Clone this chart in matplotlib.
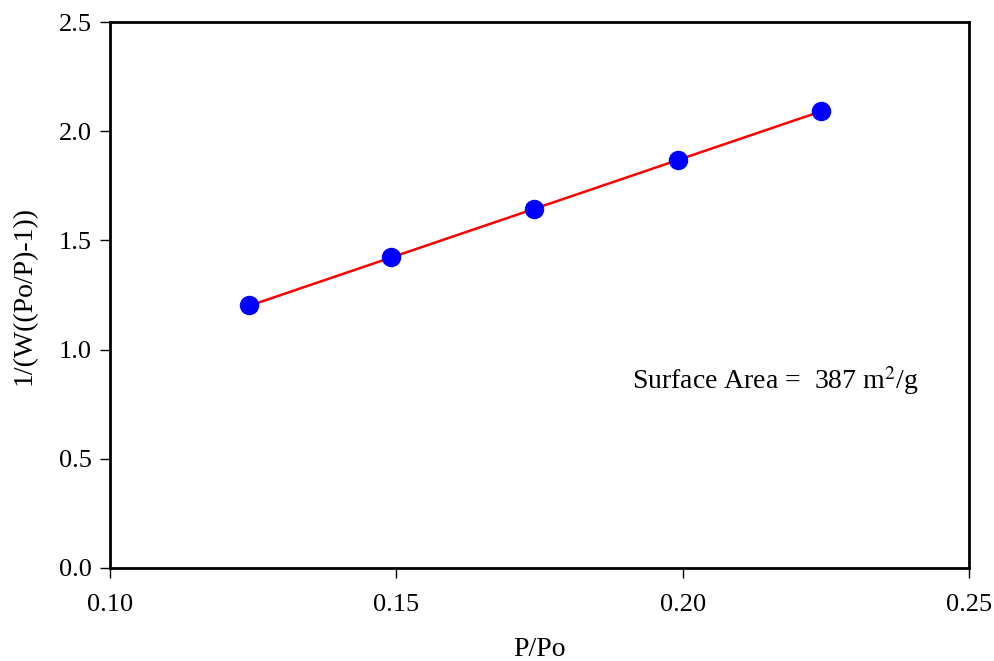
import matplotlib
matplotlib.use("Agg")
import matplotlib.pyplot as plt
import numpy as np

# BET data
p_po = [0.1243, 0.1491, 0.1741, 0.1991, 0.2241]
bet_y = [1.202, 1.422, 1.642, 1.867, 2.092]
surface_area = 387

plt.rcParams['font.family'] = ['Liberation Serif', 'DejaVu Serif']
plt.rcParams['mathtext.fontset'] = 'stix'

fig = plt.figure(figsize=(9.95, 6.61), dpi=100)
ax = fig.add_axes([0.1106, 0.1407, 0.8633, 0.826])

# linear fit through the points
slope, icpt = np.polyfit(p_po, bet_y, 1)
fit_x = np.array([p_po[0], p_po[-1]])
ax.plot(fit_x, slope * fit_x + icpt, color='red', lw=1.8, zorder=2)
ax.plot(p_po, bet_y, 'o', color='#0000ff', markersize=13, zorder=3)

ax.set_xlim(0.10, 0.25)
ax.set_ylim(0.0, 2.5)
ax.set_xticks([0.10, 0.15, 0.20, 0.25])
ax.set_yticks([0.0, 0.5, 1.0, 1.5, 2.0, 2.5])
ax.set_xticklabels(['0.10', '0.15', '0.20', '0.25'])
ax.set_yticklabels(['0.0', '0.5', '1.0', '1.5', '2.0', '2.5'])
ax.tick_params(direction='out', length=7, width=1, labelsize=19, pad=6)
ax.tick_params(axis='x', pad=12)
for s in ax.spines.values():
    s.set_linewidth(2)

ax.set_xlabel('P/Po', fontsize=20, va='center')
ax.set_ylabel('1/(W((Po/P)-1))', fontsize=20, va='center')
ax.xaxis.set_label_coords(0.5, -0.150)
ax.yaxis.set_label_coords(-0.100, 0.5)

ax.text(0.1912, 0.86, 'Surface Area =  %d m$^2$/g' % surface_area,
        fontsize=20, va='center', ha='left')

fig.savefig('out.png', dpi=100)
